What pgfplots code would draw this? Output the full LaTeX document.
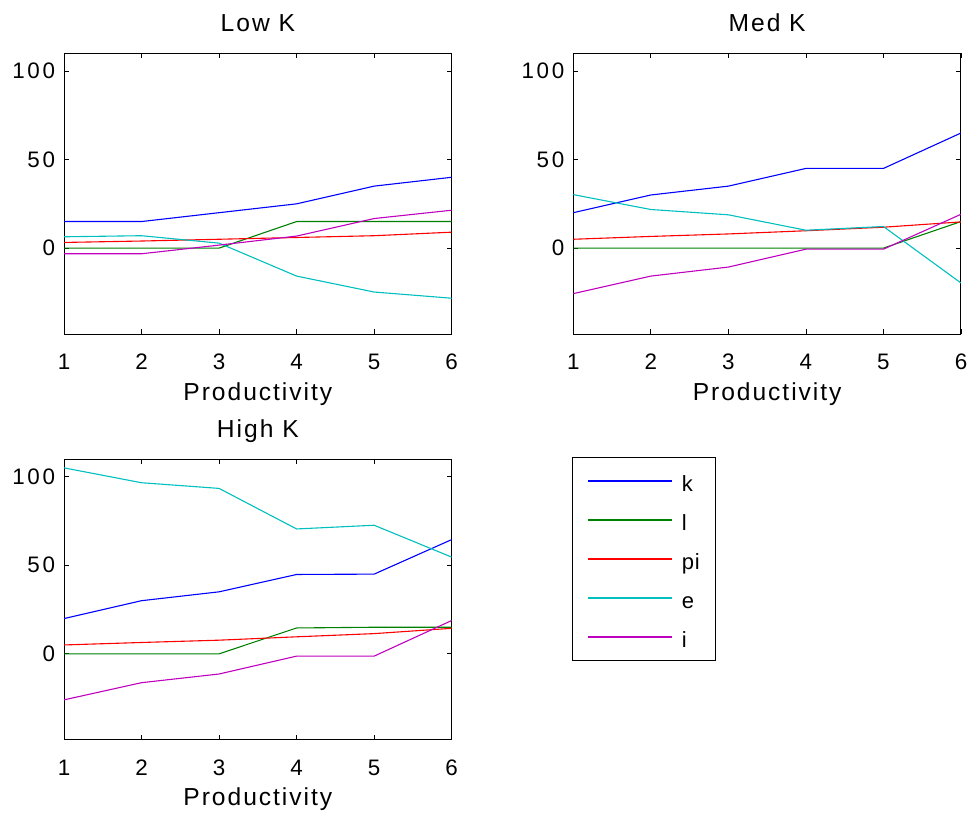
\documentclass[border=0pt]{standalone}
\usepackage{fontspec}
\setmainfont{Liberation Sans}[LetterSpace=8]
\newfontfamily\tickfont{Liberation Sans}[LetterSpace=12]
\newfontfamily\legfont{Liberation Sans}[LetterSpace=4]
\usepackage{pgfplots}
\pgfplotsset{compat=1.18}
\definecolor{mblue}{rgb}{0,0,1}
\definecolor{mgreen}{rgb}{0,0.5,0}
\definecolor{mred}{rgb}{1,0,0}
\definecolor{mcyan}{rgb}{0,0.75,0.75}
\definecolor{mmag}{rgb}{0.75,0,0.75}
\pgfplotsset{
  every axis title shift=0pt,
  mstyle/.style={
    scale only axis, width=193.85pt, height=140.35pt,
    xmin=1, xmax=6, ymin=-48.5, ymax=110,
    xtick={1,2,3,4,5,6}, ytick={0,50,100},
    tick align=inside, major tick length=2.5pt,
    tick style={black, line width=0.4pt},
    axis line style={line width=0.5pt},
    /pgf/number format/assume math mode=true,
    tick label style={font=\tickfont\fontsize{11.2}{13}\selectfont, inner sep=0pt},
    xticklabel style={anchor=base, yshift=-17.65pt},
    yticklabel style={anchor=east, xshift=-4.3pt},
    label style={font=\fontsize{12.3}{14}\selectfont},
    xlabel style={at={(0.5,0)}, anchor=base, yshift=-33pt, inner sep=0pt},
    title style={font=\fontsize{12.3}{14}\selectfont, at={(0.5,1)}, anchor=base, yshift=10.8pt, inner sep=0pt},
    xlabel={Productivity},
    every axis plot/.append style={line width=0.55pt, mark=none},
  }
}
\begin{document}
\begin{tikzpicture}
\useasboundingbox (0,0) rectangle (485.5pt,-407.5pt);
% Low K
\begin{axis}[mstyle, at={(32pt,-26.65pt)}, anchor=north west, title={Low K}]
\addplot[color=mblue] coordinates {(1,15) (2,15) (3,20) (4,25) (5,35) (6,40)};
\addplot[color=mgreen] coordinates {(1,0) (2,0) (3,0) (4,15) (5,15) (6,15)};
\addplot[color=mred] coordinates {(1,3.2) (2,4) (3,5) (4,6) (5,7) (6,9)};
\addplot[color=mcyan] coordinates {(1,6.4) (2,7) (3,2.8) (4,-15.8) (5,-24.8) (6,-28.3)};
\addplot[color=mmag] coordinates {(1,-3.2) (2,-3.2) (3,1.7) (4,6.8) (5,16.7) (6,21.4)};
\end{axis}
% Med K
\begin{axis}[mstyle, at={(286.65pt,-26.65pt)}, anchor=north west, title={Med K}]
\addplot[color=mblue] coordinates {(1,20) (2,30) (3,35) (4,45) (5,45) (6,65)};
\addplot[color=mgreen] coordinates {(1,0) (2,0) (3,0) (4,0) (5,0) (6,15)};
\addplot[color=mred] coordinates {(1,5) (2,6.6) (3,8) (4,9.8) (5,11.8) (6,14.8)};
\addplot[color=mcyan] coordinates {(1,30.2) (2,21.8) (3,18.8) (4,10.1) (5,12.2) (6,-19.7)};
\addplot[color=mmag] coordinates {(1,-25.7) (2,-15.8) (3,-10.7) (4,-0.6) (5,-0.6) (6,19.1)};
\end{axis}
% High K
\begin{axis}[mstyle, at={(32pt,-229.5pt)}, anchor=north west, title={High K},
  legend cell align=left,
  legend image code/.code={\draw[#1, line width=0.75pt] (0pt,0pt) -- (41.7pt,0pt);},
  legend style={at={(1.3095,1.007)}, anchor=north west, draw=black,
    font=\legfont\fontsize{11}{13}\selectfont,
    inner xsep=7.8pt, inner ysep=6.55pt, row sep=8.9pt, column sep=4.65pt,
    nodes={inner sep=0pt, text height=10.6pt, text depth=0pt}}]
\addplot[color=mblue] coordinates {(1,19.9) (2,30) (3,35) (4,44.8) (5,45) (6,64.5)};
\addlegendentry{k}
\addplot[color=mgreen] coordinates {(1,0) (2,0) (3,0) (4,14.6) (5,15) (6,15)};
\addlegendentry{l}
\addplot[color=mred] coordinates {(1,5) (2,6.4) (3,7.7) (4,9.6) (5,11.4) (6,14.4)};
\addlegendentry{pi}
\addplot[color=mcyan] coordinates {(1,105) (2,96.6) (3,93.4) (4,70.5) (5,72.6) (6,54.6)};
\addlegendentry{e}
\addplot[color=mmag] coordinates {(1,-26) (2,-16.3) (3,-11.4) (4,-1.3) (5,-1.3) (6,18.8)};
\addlegendentry{i}
\end{axis}
\end{tikzpicture}
\end{document}
